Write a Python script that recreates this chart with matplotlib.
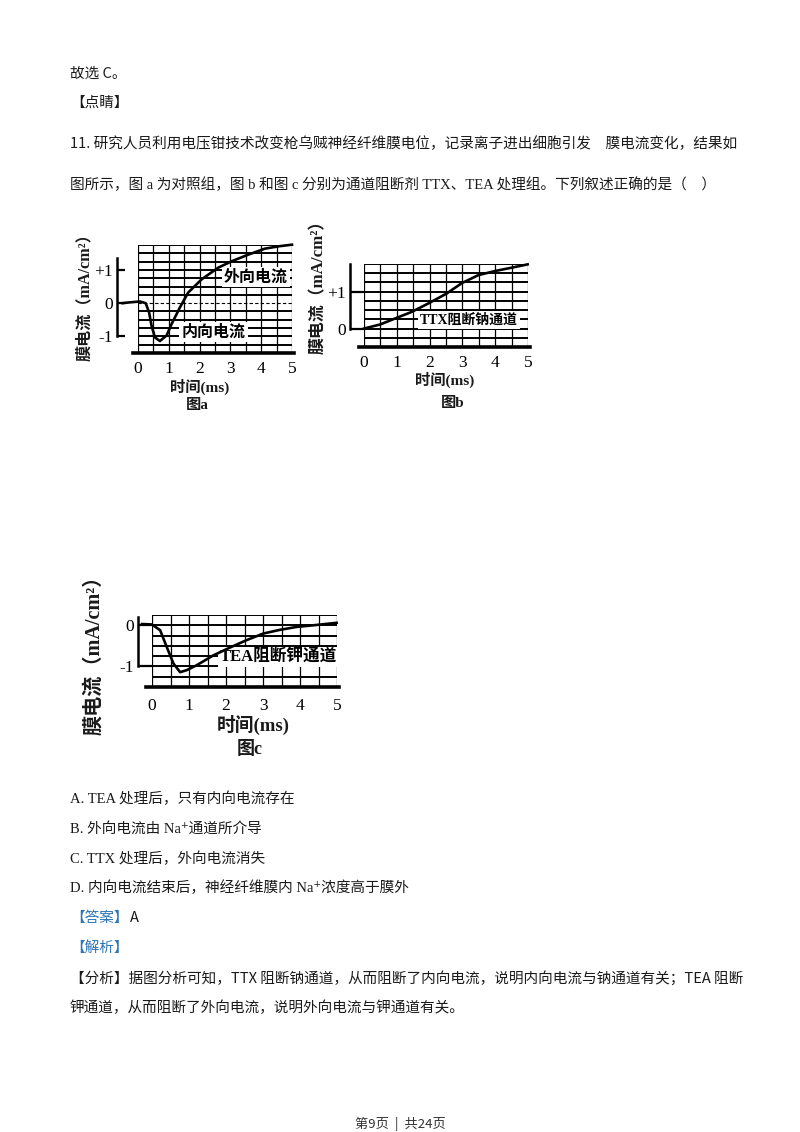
import numpy as np
import matplotlib
matplotlib.use("Agg")
import matplotlib.pyplot as plt

plt.rcParams['font.family'] = ['Noto Sans CJK SC', 'DejaVu Sans']

# ---------------- data ----------------
# Figure a (control)
t_a = [-0.5, -0.31, 0.06, 0.25, 0.36, 0.44, 0.55, 0.71, 0.93, 1.09, 1.36, 1.63,
       2.07, 2.61, 3.04, 3.58, 4.12, 4.56, 5.0]
i_a = [0.0, 0.02, 0.05, 0.0, -0.28, -0.68, -1.03, -1.14, -0.97, -0.63, -0.13, 0.32,
       0.72, 1.07, 1.26, 1.46, 1.64, 1.71, 1.76]
# Figure b (TTX)
t_b = [0.0, 0.49, 0.94, 1.45, 1.96, 2.52, 2.98, 3.49, 4.0, 4.5, 4.99]
i_b = [0.0, 0.11, 0.27, 0.45, 0.68, 0.95, 1.23, 1.45, 1.56, 1.65, 1.74]
# Figure c (TEA)
t_c = [-0.27, 0.0, 0.22, 0.4, 0.58, 0.76, 0.94, 1.21, 1.66, 2.11, 2.56, 3.01,
       3.46, 3.91, 4.36, 4.99]
i_c = [0.03, 0.02, -0.12, -0.53, -0.93, -1.14, -1.09, -0.97, -0.73, -0.54, -0.36,
       -0.2, -0.11, -0.04, 0.0, 0.06]
x_ticks = [0, 1, 2, 3, 4, 5]
x_ticklabels = ['0', '1', '2', '3', '4', '5']

W, H = 800, 1132
fig = plt.figure(figsize=(W / 100, H / 100), dpi=100)
fig.patch.set_facecolor('white')

MIX = ['Liberation Serif', 'Noto Sans CJK SC', 'DejaVu Sans']
CJK = ['Noto Sans CJK SC', 'DejaVu Sans']
TXT = '#1a1a1a'
BLUE = '#2e75b6'
BODY = 10.55


def P(x, y):
    return x / W, 1 - y / H


def put(x, y, s, size=BODY, family=CJK, color=TXT, weight='normal', ha='left', rot=0):
    fig.text(*P(x, y), s, fontsize=size, family=family, color=color,
             weight=weight, ha=ha, va='center', rotation=rot)


def make_ax(x0, x1, y0, y1):
    return fig.add_axes([x0 / W, 1 - y1 / H, (x1 - x0) / W, (y1 - y0) / H])


def style_chart(ax, ylim, yticks, yticklabels, spine_bounds, outward, ticklen,
                dashed_zero=False, xpad=6):
    ax.set_xlim(0, 5)
    ax.set_ylim(*ylim)
    ax.set_facecolor('none')
    for yv in np.arange(ylim[0], ylim[1] + 0.01, 0.25):
        if dashed_zero and abs(yv) < 1e-9:
            ax.axhline(yv, color='k', lw=0.8, ls=(0, (3, 2)), zorder=2)
        else:
            ax.axhline(yv, color='k', lw=1.4, zorder=2)
    for xv in np.arange(0, 5.01, 0.5):
        ax.axvline(xv, color='k', lw=0.9, zorder=2)
    ax.axhline(ylim[0], xmin=-0.03, xmax=1.01, color='k', lw=2.6,
               clip_on=False, zorder=3)
    for s in ('top', 'right', 'bottom'):
        ax.spines[s].set_visible(False)
    ax.spines['left'].set_position(('outward', outward))
    ax.spines['left'].set_bounds(*spine_bounds)
    ax.spines['left'].set_linewidth(1.8)
    ax.set_yticks(yticks)
    ax.set_yticklabels(yticklabels)
    ax.set_xticks(x_ticks)
    ax.set_xticklabels(x_ticklabels)
    ax.tick_params(axis='y', direction='in', length=ticklen, width=1.6, pad=3,
                   labelsize=12.5)
    ax.tick_params(axis='x', length=0, pad=xpad, labelsize=12.5)
    for lab in ax.get_xticklabels() + ax.get_yticklabels():
        lab.set_fontfamily(MIX)


# ---------------- page text ----------------
put(70, 74, '故选 C。')
put(70, 103, '【点睛】')
put(70, 144, '11. 研究人员利用电压钳技术改变枪乌贼神经纤维膜电位，记录离子进出细胞引发\u3000膜电流变化，结果如')
put(70, 185, '图所示，图 a 为对照组，图 b 和图 c 分别为通道阻断剂 TTX、TEA 处理组。下列叙述正确的是（\u3000）',
    family=MIX)
put(70, 799, 'A. TEA 处理后，只有内向电流存在', family=MIX)
put(70, 829, 'B. 外向电流由 Na⁺通道所介导', family=MIX)
put(70, 859, 'C. TTX 处理后，外向电流消失', family=MIX)
put(70, 888, 'D. 内向电流结束后，神经纤维膜内 Na⁺浓度高于膜外', family=MIX)
put(70, 918, '【答案】', color=BLUE)
put(130, 918, 'A')
put(70, 948, '【解析】', color=BLUE)
put(70, 978, '【分析】据图分析可知，TTX 阻断钠通道，从而阻断了内向电流，说明内向电流与钠通道有关；TEA 阻断')
put(70, 1008, '钾通道，从而阻断了外向电流，说明外向电流与钾通道有关。')
put(400, 1124, '第9页  |  共24页', size=9.5, color='#333333', ha='center')

# ---------------- chart a ----------------
ax = make_ax(138, 292, 245, 353)
style_chart(ax, (-1.5, 1.75), [-1, 0, 1], ['-1', '0', '+1'], (-1, 1.35), 15, 6,
            dashed_zero=True, xpad=6)
ax.plot(t_a, i_a, color='k', lw=1.9, clip_on=False, zorder=5)
ax.text(3.82, 0.78, '外向电流', ha='center', va='center', fontsize=11.5,
        family=CJK, weight='bold', zorder=4,
        bbox=dict(fc='white', ec='none', pad=1.5))
ax.text(2.45, -0.87, '内向电流', ha='center', va='center', fontsize=11.5,
        family=CJK, weight='bold', zorder=4,
        bbox=dict(fc='white', ec='none', pad=1.5))
put(85, 293, '膜电流（mA/cm²）', size=11.6, family=MIX, weight='bold', ha='center', rot=90)
put(200, 387, '时间(ms)', size=11, family=MIX, weight='bold', ha='center')
put(197, 405, '图a', size=11, family=MIX, weight='bold', ha='center')

# ---------------- chart b ----------------
ax = make_ax(364, 528, 264, 347)
style_chart(ax, (-0.5, 1.75), [0, 1], ['0', '+1'], (0, 1.75), 10, 10, xpad=6)
ax.plot(t_b, i_b, color='k', lw=1.9, clip_on=False, zorder=5)
ax.text(3.2, 0.23, 'TTX阻断钠通道', ha='center', va='center', fontsize=10,
        family=MIX, weight='bold', zorder=4,
        bbox=dict(fc='white', ec='none', pad=1.5))
put(319, 283, '膜电流（mA/cm²）', size=12.2, family=MIX, weight='bold', ha='center', rot=90)
put(445, 380, '时间(ms)', size=11, family=MIX, weight='bold', ha='center')
put(453, 403, '图b', size=11, family=MIX, weight='bold', ha='center')

# ---------------- chart c ----------------
ax = make_ax(152, 337, 615, 687)
style_chart(ax, (-1.5, 0.25), [-1, 0], ['-1', '0'], (-1, 0.2), 10, 10, xpad=8)
ax.plot(t_c, i_c, color='k', lw=1.9, clip_on=False, zorder=5)
ax.text(3.42, -0.78, 'TEA阻断钾通道', ha='center', va='center', fontsize=12,
        family=MIX, weight='bold', zorder=4,
        bbox=dict(fc='white', ec='none', pad=1.5))
put(94, 650, '膜电流（mA/cm²）', size=14.5, family=MIX, weight='bold', ha='center', rot=90)
put(253, 725, '时间(ms)', size=13.5, family=MIX, weight='bold', ha='center')
put(250, 750, '图c', size=13, family=MIX, weight='bold', ha='center')

fig.savefig('out.png', dpi=100, facecolor='white')
